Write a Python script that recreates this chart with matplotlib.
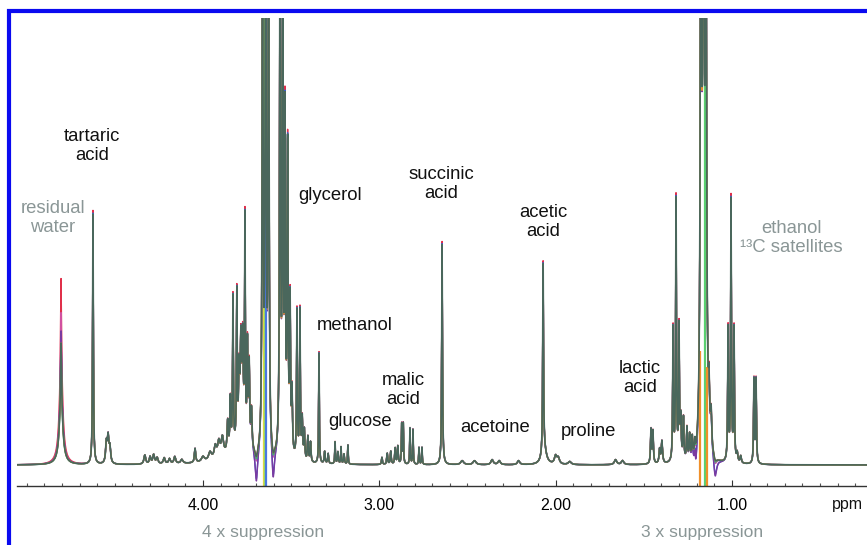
import numpy as np
import matplotlib
matplotlib.use('Agg')
import matplotlib.pyplot as plt
from matplotlib.patches import Rectangle

plt.rcParams['font.family'] = ['Liberation Sans', 'DejaVu Sans']

# 1H NMR of wine, peaks (ppm, height, half width in ppm)
peak_ppm = [4.624, 4.548, 4.538, 4.528,
            4.33, 4.30, 4.28, 4.26, 4.22, 4.19, 4.16, 4.12, 4.045, 4.00, 3.96, 3.93, 3.91, 3.89,
            3.86, 3.845, 3.830, 3.808, 3.795, 3.785, 3.775, 3.762, 3.748, 3.738, 3.725,
            3.662, 3.645, 3.628,
            3.563, 3.548, 3.535, 3.520, 3.506, 3.495, 3.467, 3.450, 3.437, 3.425, 3.405, 3.39,
            3.342, 3.31, 3.29,
            3.251, 3.235, 3.217, 3.20, 3.178,
            2.985, 2.955, 2.935, 2.91, 2.895,
            2.873, 2.864, 2.826, 2.809, 2.775, 2.758,
            2.644,
            2.53, 2.46, 2.36, 2.32, 2.21,
            2.071, 2.065,
            2.00, 1.985, 1.92, 1.66, 1.62,
            1.459, 1.448, 1.41, 1.397,
            1.334, 1.317, 1.300, 1.29, 1.275, 1.255, 1.24, 1.225, 1.21,
            1.176, 1.162, 1.148, 1.13, 1.118,
            1.022, 1.005, 0.988, 0.97, 0.95,
            0.875, 0.863]
peak_height = [250, 20, 25, 15,
               9, 7, 9, 6, 6, 5, 7, 4, 14, 5, 8, 12, 15, 18,
               30, 50, 150, 150, 70, 95, 100, 222, 100, 80, 40,
               600, 700, 600,
               560, 420, 330, 300, 150, 60, 148, 148, 40, 30, 25, 20,
               110, 12, 10,
               22, 12, 17, 10, 19,
               7, 11, 13, 16, 18,
               40, 40, 36, 35, 17, 17,
               220,
               4, 4, 5, 4, 4,
               190, 14,
               8, 6, 3, 5, 4,
               34, 32, 14, 22,
               132, 262, 132, 40, 42, 32, 24, 20, 14,
               650, 800, 650, 50, 35,
               132, 262, 132, 9, 7,
               84, 84]
peak_width = [0.0025, 0.005, 0.005, 0.005,
              0.006, 0.005, 0.006, 0.006, 0.006, 0.006, 0.006, 0.008, 0.004, 0.01, 0.01, 0.008, 0.008, 0.008,
              0.004, 0.003, 0.0025, 0.0025, 0.004, 0.004, 0.004, 0.0025, 0.003, 0.003, 0.004,
              0.003, 0.003, 0.003,
              0.003, 0.003, 0.003, 0.003, 0.003, 0.003, 0.0025, 0.0025, 0.003, 0.003, 0.003, 0.003,
              0.002, 0.003, 0.003,
              0.002, 0.003, 0.002, 0.003, 0.002,
              0.003, 0.003, 0.003, 0.003, 0.003,
              0.002, 0.002, 0.002, 0.002, 0.002, 0.002,
              0.0025,
              0.01, 0.01, 0.008, 0.008, 0.008,
              0.0025, 0.015,
              0.008, 0.008, 0.01, 0.008, 0.008,
              0.003, 0.003, 0.004, 0.004,
              0.0025, 0.0025, 0.0025, 0.003, 0.003, 0.003, 0.003, 0.003, 0.003,
              0.004, 0.004, 0.004, 0.004, 0.004,
              0.0025, 0.0025, 0.0025, 0.004, 0.004,
              0.0025, 0.0025]

# residual water, varies between samples
water_ppm = [4.805, 4.805]
water_height = [62, 60]
water_width = [0.003, 0.012]

# broad baseline hump under the sugar region
hump_ppm = [3.80]
hump_height = [14]
hump_width = [0.09]

# dips left by the solvent suppression
dip_ppm = [3.697, 3.602, 1.205, 1.095]
dip_depth = [22, 22, 14, 14]
dip_width = [0.008, 0.008, 0.01, 0.01]

sample_colors = ['#e0304a', '#d050a0', '#3a5ad0', '#7a3aa0', '#3cb878', '#e89030']
sample_scale = [1.015, 1.0, 1.005, 0.99, 1.0, 0.99]
water_scale = [1.53, 1.25, 1.05, 1.1, 0.95, 1.0]
dip_scale = [0.5, 0.6, 1.4, 1.5, 0.5, 0.4]

# artefact lines of the suppressed signals
supp_ppm = [3.655, 3.648, 3.641, 1.181, 1.153, 1.141]
supp_top = [450, 450, 450, 114, 450, 98]
supp_colors = ['#e6d840', '#9be060', '#4a78e0', '#f0902a', '#5ad070', '#f0902a']

x = np.arange(0.2, 5.1, 0.0004)


def lor(p, h, w):
    return h * w ** 2 / ((x - p) ** 2 + w ** 2)


def spectrum(scale, wscale, dscale):
    y = np.zeros_like(x)
    for p, h, w in zip(peak_ppm, peak_height, peak_width):
        y += lor(p, h * scale, w)
    for p, h, w in zip(water_ppm, water_height, water_width):
        y += lor(p, h * wscale, w)
    for p, h, w in zip(hump_ppm, hump_height, hump_width):
        y += lor(p, h, w)
    for p, h, w in zip(dip_ppm, dip_depth, dip_width):
        y -= lor(p, h * dscale, w)
    return y


fig = plt.figure(figsize=(8.67, 5.45), dpi=100)
ax = fig.add_axes([17 / 867, 1 - 486 / 545, 1 - 17 / 867, (486 - 18) / 545])

for c, s, ws, ds in zip(sample_colors, sample_scale, water_scale, dip_scale):
    ax.plot(x, spectrum(s, ws, ds), color=c, lw=1.0, zorder=2)

ax.vlines(supp_ppm, -21, supp_top, colors=supp_colors, lw=1.6, zorder=2.5)
ax.plot(x, spectrum(1.0, 1.0, 0.4), color='#4a675c', lw=1.2, zorder=3)

ax.set_xlim(5.055, 0.234)
ax.set_ylim(-21, 447)
for side in ['left', 'right', 'top']:
    ax.spines[side].set_visible(False)
ax.spines['bottom'].set_color('#333333')
ax.spines['bottom'].set_linewidth(1.0)
ax.set_yticks([])
ax.set_xticks([4, 3, 2, 1])
ax.set_xticklabels(['4.00', '3.00', '2.00', '1.00'])
ax.set_xticks(np.arange(0.3, 5.05, 0.1), minor=True)
ax.tick_params(axis='x', which='major', direction='in', length=4, width=0.8,
               color='#333333', labelsize=11.5, pad=9)
ax.tick_params(axis='x', which='minor', direction='in', length=2.5, width=0.8, color='#555555')

black = '#111111'
grey = '#8a9696'
labels = [('tartaric\nacid', 92, 146, black), ('residual\nwater', 53, 218, grey),
          ('glycerol', 330, 196, black), ('succinic\nacid', 441, 184, black),
          ('acetic\nacid', 543, 222, black), ('methanol', 355, 326, black),
          ('malic\nacid', 403, 390, black), ('glucose', 360, 422, black),
          ('acetoine', 495, 427, black), ('proline', 588, 431, black),
          ('lactic\nacid', 640, 378, black), ('ethanol\n¹³C satellites', 791, 238, grey)]
for t, px, py, c in labels:
    fig.text(px / 867, 1 - py / 545, t, ha='center', va='center', fontsize=13.3,
             color=c, linespacing=1.2)

fig.text(863 / 867, 1 - 504 / 545, 'ppm', ha='right', va='center', fontsize=11.5, color=black)
fig.text(263 / 867, 1 - 532 / 545, '4 x suppression', ha='center', va='center', fontsize=12.5, color=grey)
fig.text(702 / 867, 1 - 532 / 545, '3 x suppression', ha='center', va='center', fontsize=12.5, color=grey)

fig.add_artist(Rectangle((9 / 867, -0.05), 1.0, 1.05 - 11 / 545, transform=fig.transFigure,
                         fill=False, edgecolor='#0a0af0', linewidth=3))

fig.savefig('out.png', dpi=100)
